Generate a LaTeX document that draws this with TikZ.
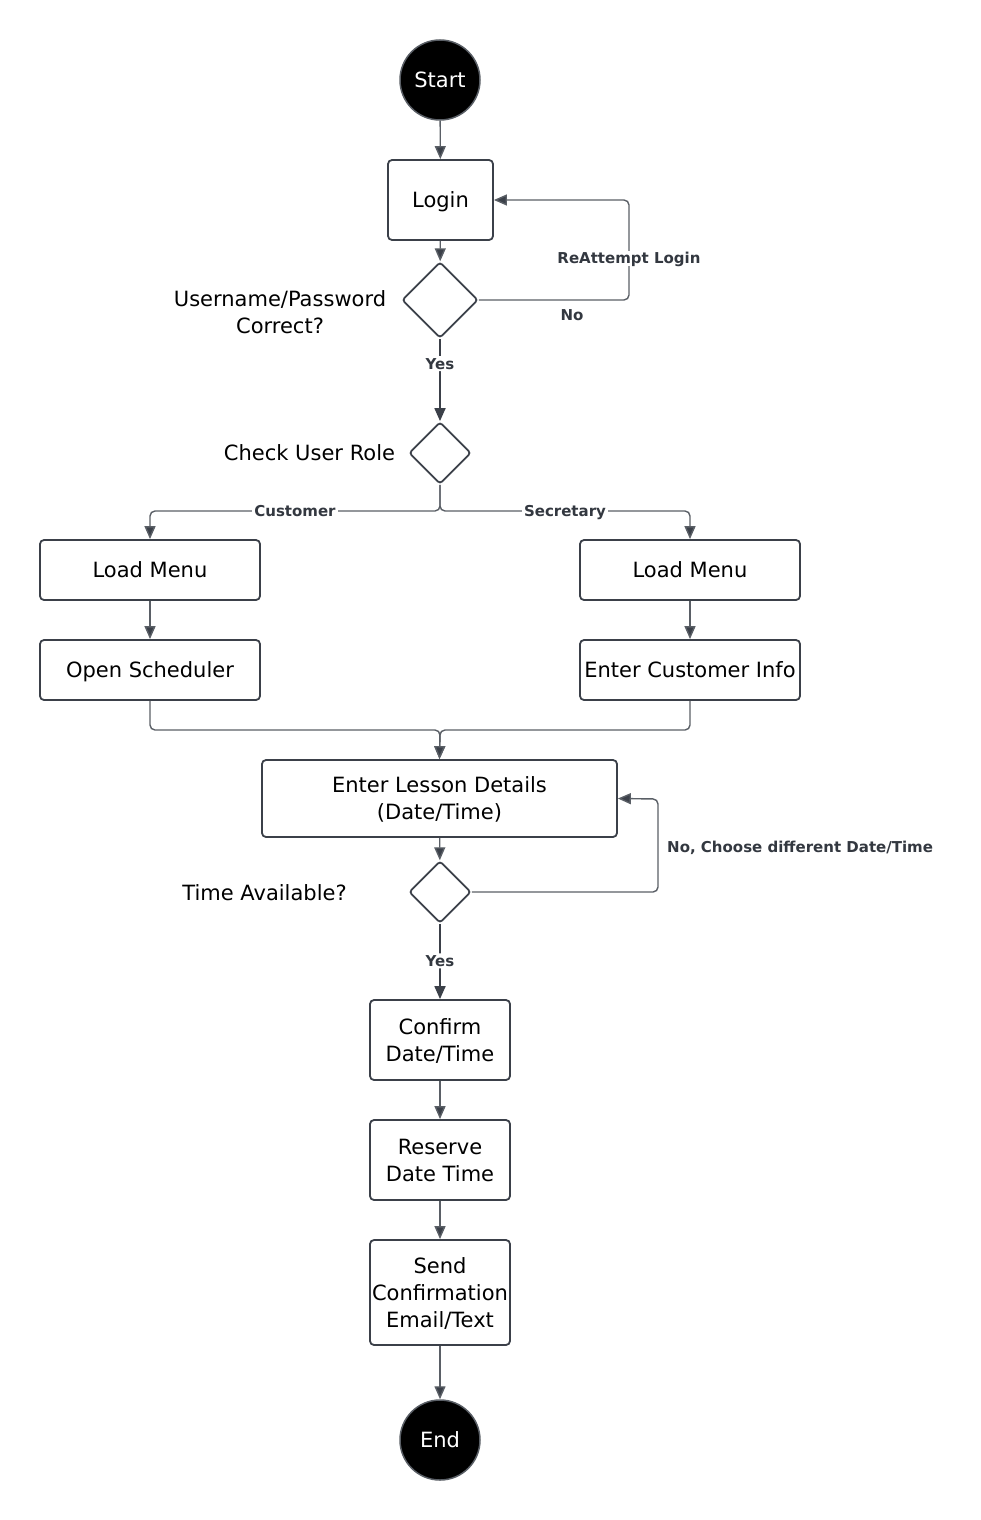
\documentclass[tikz,border=0pt]{standalone}
\usepackage{fontspec}
\setmainfont{DejaVu Sans}
\usetikzlibrary{arrows.meta,shapes.geometric}
\definecolor{linec}{HTML}{3B4049}
\definecolor{edgec}{HTML}{5A5F66}
\definecolor{labc}{HTML}{333840}
\begin{document}
\begin{tikzpicture}[x=1pt,y=-1pt,
  % text boxes are centred from cap height to last baseline
  txt/.style={font=\fontsize{21}{27}\selectfont, text=black,
    text height=15.3pt, text depth=0pt},
  two/.style={text height=42.3pt},
  three/.style={text height=69.3pt},
  box/.style={draw=linec, line width=1.8pt, rounded corners=4pt, fill=white,
    inner sep=0pt, align=center, txt},
  decision/.style={diamond, aspect=1, draw=linec, line width=1.8pt,
    rounded corners=3pt, fill=white, inner sep=0pt},
  terminal/.style={circle, draw=edgec, line width=1.5pt, fill=black, inner sep=0pt,
    minimum size=80pt, txt, text=white},
  edge/.style={draw=edgec, line width=1.4pt, rounded corners=5pt,
    -{Triangle[length=13pt,width=11pt,fill=linec]}},
  elabel/.style={font=\fontsize{15}{18}\selectfont\bfseries, text=labc,
    fill=white, inner sep=2pt, text height=11pt, text depth=0pt},
  side/.style={txt, align=center, inner sep=0pt}
]
\useasboundingbox (0,0) rectangle (981,1520);

% main flow nodes
\node[terminal] (start) at (440,80) {Start};
\node[box, minimum width=105pt, minimum height=80pt] (login) at (440.5,200) {Login};
\node[decision, minimum width=76pt, minimum height=76pt] (d1) at (440,300) {};
\node[side, two] (d1lab) at (280,312) {Username/Password\\Correct?};
\node[decision, minimum width=62pt, minimum height=62pt] (d2) at (440,453) {};
\node[side] (d2lab) at (309.5,453) {Check User Role};

\node[box, minimum width=220pt, minimum height=60pt] (lmL) at (150,570) {Load Menu};
\node[box, minimum width=220pt, minimum height=60pt] (lmR) at (690,570) {Load Menu};
\node[box, minimum width=220pt, minimum height=60pt] (os) at (150,670) {Open Scheduler};
\node[box, minimum width=220pt, minimum height=60pt] (eci) at (690,670) {Enter Customer Info};

\node[box, two, minimum width=355pt, minimum height=77pt] (eld) at (439.5,798.5) {Enter Lesson Details\\(Date/Time)};
\node[decision, minimum width=62pt, minimum height=62pt] (d3) at (440,892) {};
\node[side] (d3lab) at (264.5,893) {Time Available?};

\node[box, two, minimum width=140pt, minimum height=80pt] (conf) at (440,1040) {Confirm\\Date/Time};
\node[box, two, minimum width=140pt, minimum height=80pt] (res) at (440,1160) {Reserve\\Date Time};
\node[box, three, minimum width=140pt, minimum height=105pt] (send) at (440,1292.5) {Send\\Confirmation\\Email/Text};
\node[terminal] (end) at (440,1440) {End};

% route points
\coordinate (r1) at (629,300);
\coordinate (r2) at (629,200);
\coordinate (split) at (440,511);
\coordinate (sl) at (150,511);
\coordinate (sr) at (690,511);
\coordinate (ml) at (150,730);
\coordinate (mr) at (690,730);
\coordinate (mc) at (440,730);
\coordinate (q1) at (658,892);
\coordinate (q2) at (658,799);

% connectors
\path[edge] (start) -- (login);
\path[edge] (login) -- (d1);
\path[edge] (d1.east) -- (r1) -- (r2) -- (login.east);
\node[elabel] (reatt) at (629,258) {ReAttempt Login};
\node[elabel] (no1) at (572,315) {No};
\path[edge, line width=1.8pt, draw=linec] (d1.south) -- node[elabel, pos=0.3] (yes1) {Yes} (d2.north);

\path[edge] (d2.south) -- (split) -- (sl) -- (lmL.north);
\path[edge] (d2.south) -- (split) -- (sr) -- (lmR.north);
\node[elabel] (cust) at (295,511) {Customer};
\node[elabel] (secr) at (565,511) {Secretary};

\path[edge] (lmL) -- (os);
\path[edge] (lmR) -- (eci);
\path[edge] (os.south) -- (ml) -- (mc) -- (eld.north);
\path[edge] (eci.south) -- (mr) -- (mc) -- (eld.north);

\path[edge] (eld) -- (d3);
\path[edge] (d3.east) -- (q1) -- (q2) -- (eld.east);
\node[elabel, anchor=west] (no2) at (665,847) {No, Choose different Date/Time};
\path[edge, line width=1.8pt, draw=linec] (d3.south) -- node[elabel, pos=0.49] (yes2) {Yes} (conf.north);

\path[edge] (conf) -- (res);
\path[edge] (res) -- (send);
\path[edge] (send) -- (end);
\end{tikzpicture}
\end{document}
